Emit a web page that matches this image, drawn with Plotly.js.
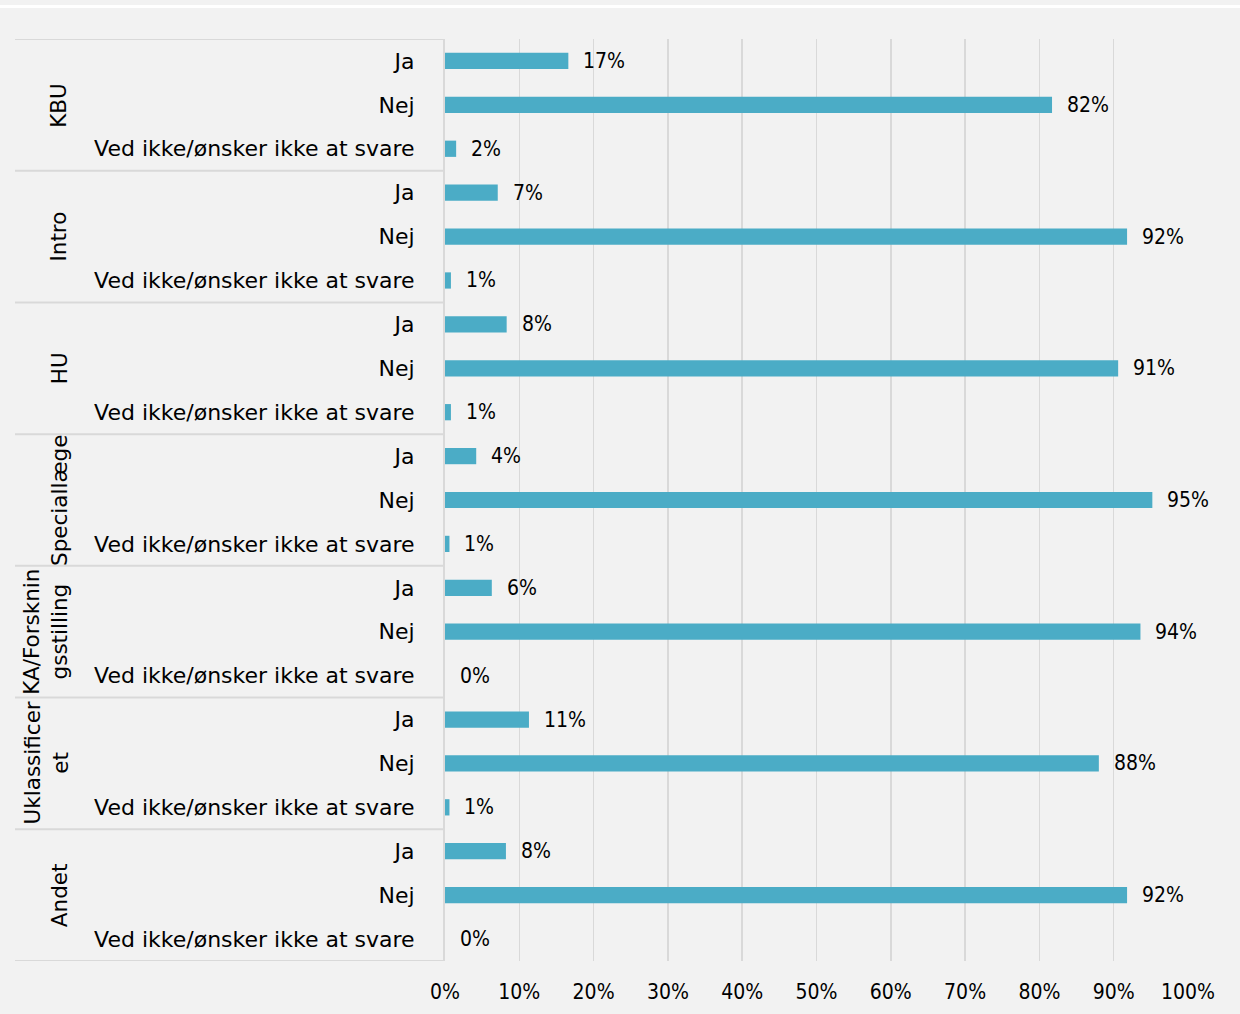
<!DOCTYPE html>
<html>
<head>
<meta charset="utf-8">
<script src="https://cdn.plot.ly/plotly-3.0.1.min.js"></script>
<style>html,body{margin:0;padding:0;background:#f2f2f2;}#chart{width:1240px;height:1014px;}</style>
</head>
<body>
<div id="chart"></div>
<script>
const groups = ["KBU", "Intro", "HU", "Speciallæge", "KA/Forskningsstilling", "Uklassificeret", "Andet"];
const groupLabels = ["KBU", "Intro", "HU", "Speciallæge", "KA/Forsknin<br>gsstilling", "Uklassificer<br>et", "Andet"];
const answers = ["Ja", "Nej", "Ved ikke/ønsker ikke at svare"];
const ja = [0.166, 0.071, 0.083, 0.042, 0.063, 0.113, 0.082];
const nej = [0.817, 0.918, 0.906, 0.952, 0.936, 0.880, 0.918];
const vedIkke = [0.015, 0.008, 0.008, 0.006, 0.0, 0.006, 0.0];
const xTicks = [0, 0.1, 0.2, 0.3, 0.4, 0.5, 0.6, 0.7, 0.8, 0.9, 1.0];
const xTickText = ["0%", "10%", "20%", "30%", "40%", "50%", "60%", "70%", "80%", "90%", "100%"];

const W = 1240, H = 1014;
const mL = 445, mR = 52, mT = 39, mB = 53;
const plotW = W - mL - mR, plotH = H - mT - mB;
const px2x = p => (p - mL) / plotW;
const py2y = p => (H - mB - p) / plotH;

const xs = [], ys = [], tickvals = [], ticktext = [];
const series = [ja, nej, vedIkke];
let idx = 0;
groups.forEach((g, gi) => {
  answers.forEach((a, ai) => {
    xs.push(series[ai][gi]);
    ys.push(idx);
    tickvals.push(idx);
    ticktext.push(a);
    idx++;
  });
});
const nRows = idx;

const trace = {
  type: 'bar', orientation: 'h',
  x: xs, y: ys,
  marker: {color: '#4bacc6'},
  hoverinfo: 'skip'
};

const annotations = xs.map((v, i) => ({
  x: v, y: ys[i], xref: 'x', yref: 'y',
  text: Math.round(v * 100) + '%',
  xanchor: 'left', yanchor: 'middle', xshift: 13,
  showarrow: false,
  font: {family: 'DejaVu Sans Condensed', size: 21, color: '#000'}
}));

groupLabels.forEach((gl, gi) => {
  const twoLine = gl.indexOf('<br>') >= 0;
  annotations.push({
    x: px2x(twoLine ? 46 : 59), y: gi * 3 + 1, xref: 'paper', yref: 'y',
    text: gl, textangle: -90, showarrow: false,
    xanchor: 'center', yanchor: 'middle',
    font: {family: 'DejaVu Sans', size: 21.5, color: '#000'}
  });
});

const shapes = [];
for (let k = 0; k <= groups.length; k++) {
  shapes.push({
    type: 'line', xref: 'paper', yref: 'y',
    x0: px2x(15), x1: 0, y0: k * 3 - 0.5, y1: k * 3 - 0.5,
    line: {color: '#d9d9d9', width: 2}
  });
}
shapes.push({
  type: 'line', xref: 'paper', yref: 'paper',
  x0: px2x(0), x1: px2x(W), y0: py2y(6.5), y1: py2y(6.5),
  line: {color: '#ffffff', width: 3}
});

const layout = {
  width: W, height: H,
  margin: {l: mL, r: mR, t: mT, b: mB, pad: 0},
  paper_bgcolor: '#f2f2f2', plot_bgcolor: '#f2f2f2',
  showlegend: false,
  bargap: 0.63,
  xaxis: {
    range: [0, 1], tickvals: xTicks, ticktext: xTickText,
    showgrid: true, gridcolor: '#d9d9d9', gridwidth: 1.5,
    zeroline: false, showline: false, ticks: '',
    ticklabelstandoff: 16,
    tickfont: {family: 'DejaVu Sans Condensed', size: 21, color: '#000'},
    fixedrange: true
  },
  yaxis: {
    range: [nRows - 0.5, -0.5],
    tickvals: tickvals, ticktext: ticktext,
    showgrid: false, zeroline: false,
    showline: true, linecolor: '#d9d9d9', linewidth: 2,
    ticks: '', ticklabelstandoff: 24,
    tickfont: {family: 'DejaVu Sans', size: 22, color: '#000'},
    fixedrange: true
  },
  annotations: annotations,
  shapes: shapes
};

Plotly.newPlot('chart', [trace], layout, {displayModeBar: false, staticPlot: true});
</script>
</body>
</html>
